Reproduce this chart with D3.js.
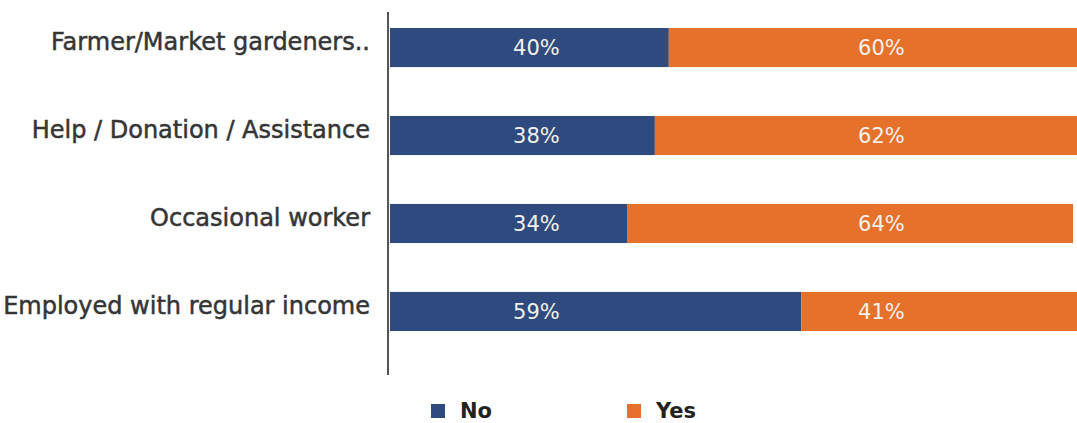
<!DOCTYPE html>
<html>
<head>
<meta charset="utf-8">
<script src="https://cdn.jsdelivr.net/npm/d3@7"></script>
<style>
  html, body { margin: 0; padding: 0; background: #fff; }
  svg { display: block; }
</style>
</head>
<body>
<div id="chart"></div>
<script>
const categories = ["Farmer/Market gardeners..", "Help / Donation / Assistance", "Occasional worker", "Employed with regular income"];
const seriesNames = ["No", "Yes"];
const noValues = [40, 38, 34, 59];
const yesValues = [60, 62, 64, 41];
const colors = ["#2f4a7f", "#e5712b"];

const W = 1077, H = 423;
const svg = d3.select("#chart").append("svg").attr("width", W).attr("height", H);

const x = d3.scaleLinear().domain([0, 100]).range([390, 1087]);
const y = d3.scaleBand().domain(categories).range([28, 331]).paddingInner(0.556).paddingOuter(0);

const rows = categories.map((c, i) => ({ cat: c, vals: [noValues[i], yesValues[i]] }));
const stacked = [];
rows.forEach(r => {
  let acc = 0;
  r.vals.forEach((v, k) => {
    stacked.push({ cat: r.cat, k, x0: acc, x1: acc + v, v });
    acc += v;
  });
});

// bars
svg.append("g").selectAll("rect").data(stacked).join("rect")
  .attr("x", d => x(d.x0))
  .attr("y", d => y(d.cat))
  .attr("width", d => x(d.x1) - x(d.x0))
  .attr("height", y.bandwidth())
  .attr("fill", d => colors[d.k]);

// value labels (placed at fixed column positions like the original)
const labelPos = [21, 70.5];
svg.append("g").selectAll("text").data(stacked).join("text")
  .attr("x", d => x(labelPos[d.k]))
  .attr("y", d => y(d.cat) + y.bandwidth() / 2)
  .attr("dy", "0.36em")
  .attr("text-anchor", "middle")
  .attr("font-family", "DejaVu Sans, sans-serif")
  .attr("font-size", 21)
  .attr("fill", "#f4f1ea")
  .text(d => d.v + "%");

// y axis (labels only; line drawn separately)
const yAxis = d3.axisLeft(y).tickSize(0).tickPadding(18);
const ga = svg.append("g").attr("transform", "translate(388,0)").call(yAxis);
ga.select(".domain").remove();
ga.selectAll("text")
  .attr("font-family", "DejaVu Sans, sans-serif")
  .attr("font-size", 24)
  .attr("fill", "#353535")
  .attr("stroke", "#353535")
  .attr("stroke-width", 0.5)
  .attr("dy", "0.12em");
svg.append("line")
  .attr("x1", 388).attr("x2", 388)
  .attr("y1", 12).attr("y2", 375)
  .attr("stroke", "#555").attr("stroke-width", 2);

// legend
const legendX = [431, 627];
const lg = svg.append("g").selectAll("g").data(seriesNames).join("g")
  .attr("transform", (d, i) => `translate(${legendX[i]},404)`);
lg.append("rect").attr("width", 14).attr("height", 14).attr("fill", (d, i) => colors[i]);
lg.append("text")
  .attr("x", 29).attr("y", 14)
  .attr("font-family", "DejaVu Sans, sans-serif")
  .attr("font-weight", "bold")
  .attr("font-size", 21)
  .attr("fill", "#222")
  .text(d => d);
</script>
</body>
</html>
